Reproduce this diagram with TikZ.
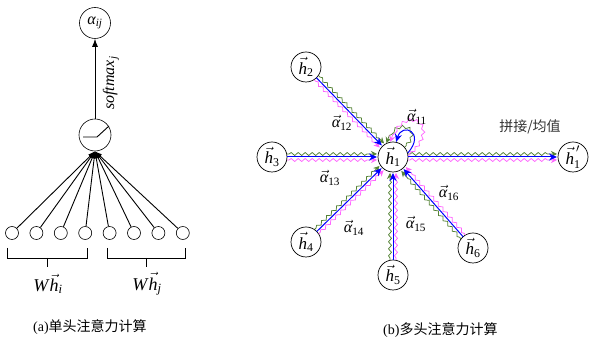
\documentclass[tikz,border=0pt]{standalone}
\usepackage{amsmath}
\usepackage{fontspec}
\setmainfont{Liberation Serif}
\newfontfamily\cjk{Noto Sans CJK SC}
\usetikzlibrary{calc,decorations.pathmorphing,arrows.meta}
\definecolor{grn}{RGB}{84,130,53}
\definecolor{mag}{RGB}{255,102,255}
\definecolor{blu}{RGB}{0,0,255}
\newcommand\hv[1]{$\vec{\textit{h}}_{\text{#1}}$}
\newcommand\av[1]{$\vec{\textit{α}}_{\text{#1}}$}
\tikzset{
  hn/.style={circle,draw,line width=0.7pt,minimum size=30pt,inner sep=0pt,font=\fontsize{17}{17}\selectfont},
  smc/.style={circle,draw,line width=0.6pt,minimum size=13pt,inner sep=0pt},
  bign/.style={circle,draw,line width=0.6pt,minimum size=#1,inner sep=0pt},
  lbl/.style={font=\fontsize{16}{16}\selectfont,inner sep=0pt},
  wave/.style={line width=0.75pt,decorate,decoration={snake,amplitude=1.5pt,segment length=7pt,pre length=2pt,post length=7pt},-{Stealth[length=6pt,width=6pt]}},
  grnw/.style={wave,color=grn},
  magw/.style={wave,color=mag},
  blul/.style={line width=1pt,color=blu,-{Stealth[length=8pt,width=7pt]}},
  inarr/.style={line width=0.9pt,-{Latex[length=7pt,width=5pt]}},
}
\newcommand\tri[2]{%
  \path ($(#1.center)!15pt!(#2.center)$) coordinate (s) ($(#2.center)!16pt!(#1.center)$) coordinate (e);
  \draw[grnw] ($(s)!3pt!90:(e)$) -- ($(e)!3pt!-90:(s)$);
  \draw[magw] ($(s)!3pt!-90:(e)$) -- ($(e)!3pt!90:(s)$);
  \draw[blul] (s) -- (e);
}
\begin{document}
\begin{tikzpicture}[x=1pt,y=-1pt]
\useasboundingbox (0,0) rectangle (590,344);
% ---------- (a) ----------
\node[bign=31pt] (aij) at (95,23) {\fontsize{16}{16}\selectfont$\textit{α}_{\textit{ij}}$};
\node[bign=32pt] (act) at (95,135) {};
\draw[line width=0.9pt] ([shift={(-12,2)}]act.center) -- ([shift={(2,2)}]act.center) -- ([shift={(14,-9)}]act.center);
\draw[line width=0.9pt,-{Latex[length=8pt,width=6pt]}] (act) -- (aij);
\node[font=\fontsize{16}{16}\selectfont,inner sep=0pt,rotate=90] (smx) at (111,83) {\textit{softmax}$_{\textit{j}}$};
\foreach \k in {1,...,8} {
  \node[smc] (c\k) at ({12+24.4*(\k-1)},233) {};
  \draw[inarr] (c\k) -- (act.south);
}
\draw[line width=0.7pt] (7,248) -- (7,258) -- (87,258) -- (87,248) (47,258) -- (47,267);
\draw[line width=0.7pt] (107,248) -- (107,258) -- (185,258) -- (185,248) (146,258) -- (146,267);
\node[font=\fontsize{18}{18}\selectfont] (whi) at (48,284) {\textit{W}$\vec{\textit{h}}_{\textit{i}}$};
\node[font=\fontsize{18}{18}\selectfont] (whj) at (147,284) {\textit{W}$\vec{\textit{h}}_{\textit{j}}$};
\node[font=\fontsize{14}{14}\selectfont,anchor=west,inner sep=0pt] (capa) at (33,327) {(a)\cjk 单头注意力计算};
% ---------- (b) ----------
\node[hn] (h1) at (393,157) {\hv{1}};
\node[hn] (h2) at (306,67) {\hv{2}};
\node[hn] (h3) at (272,157) {\hv{3}};
\node[hn] (h4) at (306,242) {\hv{4}};
\node[hn] (h5) at (393,275) {\hv{5}};
\node[hn] (h6) at (473,248) {\hv{6}};
\node[hn] (h1p) at (573,157) {$\vec{\textit{h}}^{\,\prime}_{\text{1}}$};
\tri{h2}{h1}
\tri{h3}{h1}
\tri{h4}{h1}
\tri{h5}{h1}
\tri{h6}{h1}
\tri{h1}{h1p}
% self loop
\draw[grnw] (h1.40) .. controls (424,128) and (392,118) .. (h1.115);
\draw[magw] (h1.5) .. controls (444,124) and (400,104) .. (h1.100);
\draw[blul] (h1.15) .. controls (426,132) and (402,122) .. (h1.78);
\node[lbl] (a11) at (417,117) {\av{11}};
\node[lbl] (a12) at (342,123) {\av{12}};
\node[lbl] (a13) at (330,178) {\av{13}};
\node[lbl] (a14) at (354,228) {\av{14}};
\node[lbl] (a15) at (416,224) {\av{15}};
\node[lbl] (a16) at (449,193) {\av{16}};
\node[font=\fontsize{14}{14}\selectfont\cjk,text=black!80] (pj) at (530,127) {拼接/均值};
\node[font=\fontsize{14}{14}\selectfont,anchor=west,inner sep=0pt] (capb) at (383,330) {(b)\cjk 多头注意力计算};
\end{tikzpicture}
\end{document}
